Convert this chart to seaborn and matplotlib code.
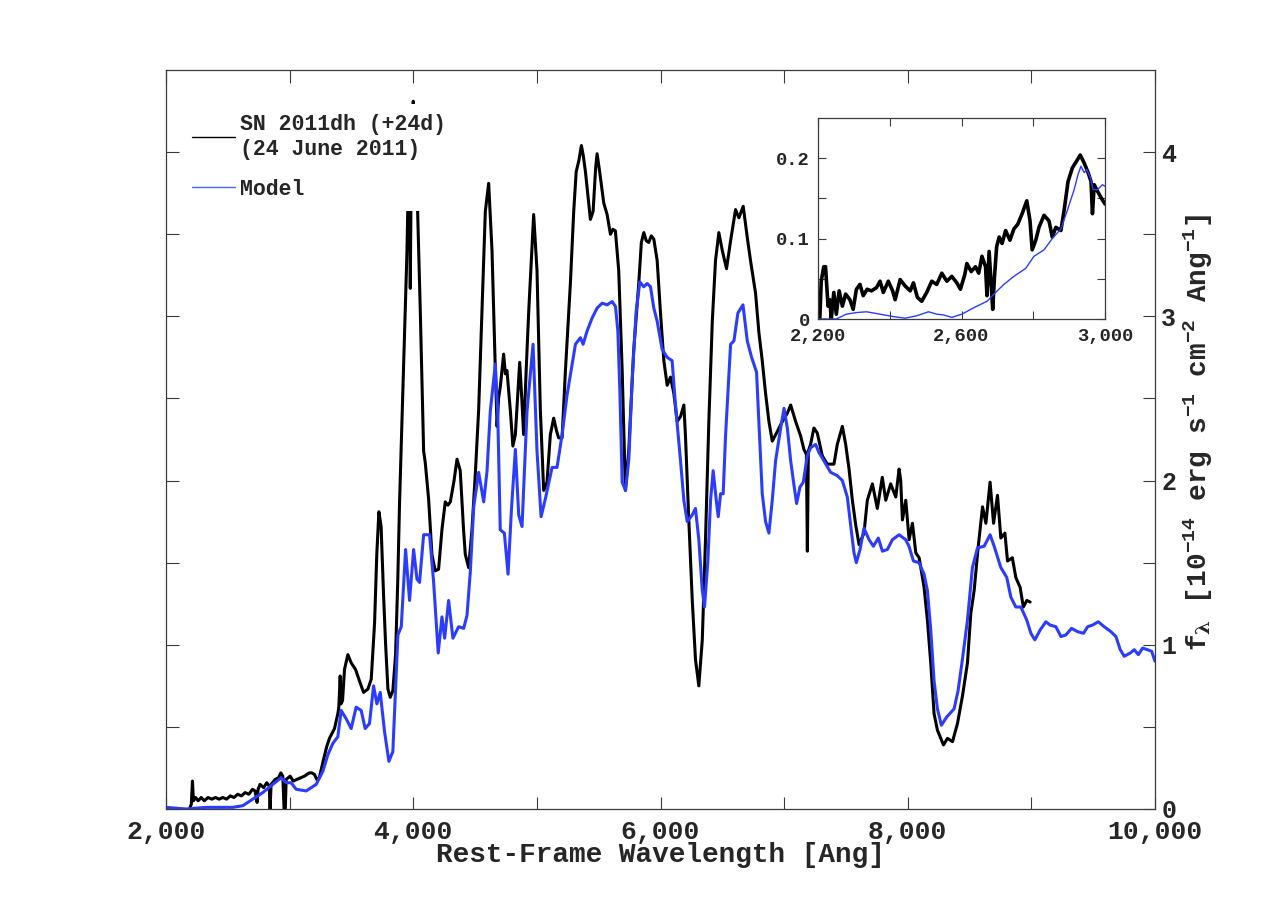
import matplotlib
matplotlib.use("Agg")
import matplotlib.pyplot as plt
import seaborn as sns
from matplotlib.lines import Line2D

# observed spectrum, SN 2011dh (+24d), flux in 1e-14 erg/s/cm2/A
obs_wave = [2190, 2205, 2214, 2222, 2240, 2260, 2285, 2310, 2340, 2370, 2400, 2430,
            2460, 2490, 2520, 2550, 2580, 2610, 2640, 2670, 2700, 2720, 2737, 2745,
            2761, 2790, 2815, 2835, 2842, 2850, 2883, 2910, 2929, 2945, 2955, 2965,
            2972, 3004, 3030, 3058, 3090, 3120, 3139, 3161, 3180, 3201, 3220, 3240,
            3274, 3300, 3322, 3363, 3390, 3398, 3409, 3416, 3428, 3444, 3471, 3498,
            3533, 3565, 3598, 3633, 3660, 3687, 3705, 3722, 3740, 3760, 3776, 3795,
            3814, 3835, 3857, 3875, 3889, 3922, 3949, 3962, 3970, 3976, 3984, 3994,
            4000, 4010, 4022, 4035, 4057, 4084, 4097, 4124, 4151, 4178, 4205, 4232,
            4259, 4280, 4300, 4330, 4354, 4380, 4407, 4421, 4448, 4475, 4502, 4529,
            4556, 4583, 4610, 4637, 4664, 4678, 4690, 4704, 4731, 4745, 4758, 4785,
            4806, 4826, 4861, 4878, 4893, 4915, 4934, 4974, 5001, 5028, 5055, 5082,
            5109, 5136, 5160, 5176, 5204, 5231, 5271, 5298, 5318, 5340, 5360, 5375,
            5393, 5433, 5455, 5475, 5487, 5508, 5541, 5568, 5595, 5615, 5635, 5662,
            5690, 5716, 5743, 5783, 5824, 5845, 5865, 5885, 5905, 5925, 5946, 5973,
            6000, 6027, 6054, 6081, 6108, 6135, 6162, 6189, 6202, 6229, 6257, 6283,
            6310, 6338, 6364, 6391, 6419, 6445, 6472, 6500, 6534, 6567, 6607, 6634,
            6669, 6702, 6728, 6769, 6796, 6823, 6850, 6877, 6904, 6939, 6986, 7026,
            7053, 7093, 7134, 7160, 7180, 7188, 7196, 7214, 7241, 7268, 7309, 7349,
            7403, 7430, 7471, 7498, 7525, 7552, 7579, 7606, 7646, 7673, 7714, 7754,
            7794, 7822, 7862, 7903, 7930, 7943, 7957, 7984, 8011, 8038, 8065, 8092,
            8132, 8159, 8186, 8213, 8240, 8289, 8321, 8362, 8402, 8443, 8483, 8510,
            8537, 8569, 8605, 8632, 8666, 8694, 8726, 8753, 8786, 8807, 8846, 8874,
            8909, 8935, 8963, 8990]
obs_flux = [0.00, 0.03, 0.17, 0.05, 0.07, 0.05, 0.07, 0.05, 0.07, 0.06, 0.07, 0.06,
            0.07, 0.06, 0.08, 0.07, 0.09, 0.08, 0.10, 0.09, 0.12, 0.11, 0.04, 0.12,
            0.15, 0.13, 0.16, 0.14, 0.00, 0.15, 0.18, 0.19, 0.22, 0.20, 0.00, 0.00,
            0.18, 0.20, 0.17, 0.18, 0.19, 0.20, 0.21, 0.22, 0.22, 0.21, 0.18, 0.19,
            0.30, 0.38, 0.43, 0.49, 0.58, 0.62, 0.81, 0.64, 0.66, 0.85, 0.94, 0.89,
            0.85, 0.78, 0.71, 0.73, 0.79, 1.13, 1.55, 1.81, 1.72, 1.30, 1.01, 0.73,
            0.68, 0.72, 0.94, 1.40, 1.86, 2.71, 3.39, 3.90, 4.05, 3.17, 3.95, 4.22,
            4.31, 4.20, 3.95, 3.65, 3.03, 2.18, 2.11, 1.89, 1.55, 1.45, 1.46, 1.70,
            1.87, 1.85, 1.87, 2.00, 2.13, 2.06, 1.70, 1.55, 1.47, 1.70, 2.04, 2.43,
            3.03, 3.64, 3.81, 3.40, 2.67, 2.33, 2.50, 2.57, 2.77, 2.65, 2.67, 2.43,
            2.21, 2.28, 2.72, 2.50, 2.28, 2.70, 3.03, 3.62, 3.28, 2.43, 1.94, 1.99,
            2.28, 2.38, 2.30, 2.26, 2.26, 2.67, 3.20, 3.64, 3.88, 3.95, 4.04, 3.98,
            3.88, 3.59, 3.64, 3.90, 3.99, 3.88, 3.69, 3.62, 3.50, 3.53, 3.52, 3.28,
            2.67, 1.94, 2.18, 2.79, 3.20, 3.45, 3.51, 3.46, 3.45, 3.49, 3.47, 3.34,
            3.02, 2.73, 2.58, 2.63, 2.53, 2.36, 2.39, 2.46, 2.27, 1.76, 1.27, 0.91,
            0.75, 1.03, 1.64, 2.36, 2.97, 3.34, 3.51, 3.40, 3.29, 3.46, 3.65, 3.60,
            3.67, 3.48, 3.34, 3.14, 2.90, 2.73, 2.53, 2.36, 2.24, 2.29, 2.36, 2.41,
            2.46, 2.36, 2.27, 2.19, 2.16, 1.57, 2.18, 2.22, 2.32, 2.29, 2.15, 2.10,
            2.10, 2.22, 2.33, 2.22, 2.07, 1.88, 1.73, 1.61, 1.68, 1.88, 1.98, 1.83,
            2.02, 1.88, 1.98, 1.90, 2.07, 2.00, 1.76, 1.88, 1.64, 1.74, 1.56, 1.53,
            1.35, 1.15, 0.89, 0.58, 0.48, 0.39, 0.43, 0.41, 0.52, 0.69, 0.89, 1.19,
            1.33, 1.59, 1.84, 1.74, 1.99, 1.74, 1.91, 1.65, 1.68, 1.51, 1.53, 1.41,
            1.35, 1.23, 1.27, 1.26]

# model spectrum
model_wave = [2000, 2162, 2324, 2540, 2621, 2702, 2783, 2864, 2931, 2972, 3012, 3053,
              3134, 3215, 3269, 3309, 3350, 3390, 3417, 3457, 3498, 3538, 3579, 3611,
              3646, 3679, 3706, 3733, 3768, 3803, 3835, 3876, 3903, 3938, 3970, 4003,
              4030, 4051, 4084, 4132, 4165, 4202, 4232, 4254, 4286, 4321, 4367, 4408,
              4435, 4462, 4489, 4529, 4570, 4597, 4623, 4664, 4683, 4704, 4737, 4767,
              4794, 4826, 4853, 4880, 4920, 4969, 5001, 5034, 5069, 5123, 5163, 5204,
              5244, 5277, 5312, 5352, 5374, 5406, 5447, 5487, 5528, 5568, 5609, 5636,
              5655, 5671, 5690, 5717, 5744, 5771, 5803, 5833, 5865, 5892, 5919, 5946,
              5973, 6013, 6054, 6094, 6121, 6162, 6189, 6216, 6256, 6283, 6310, 6337,
              6356, 6383, 6405, 6426, 6451, 6467, 6486, 6507, 6526, 6567, 6594, 6626,
              6667, 6702, 6737, 6777, 6796, 6823, 6850, 6877, 6904, 6931, 6972, 6999,
              7026, 7053, 7080, 7101, 7128, 7155, 7187, 7214, 7255, 7282, 7322, 7376,
              7430, 7471, 7511, 7538, 7565, 7584, 7614, 7646, 7687, 7722, 7762, 7795,
              7835, 7876, 7930, 7983, 8010, 8046, 8091, 8132, 8159, 8186, 8213, 8240,
              8272, 8315, 8375, 8407, 8442, 8483, 8523, 8564, 8618, 8666, 8699, 8753,
              8801, 8834, 8874, 8915, 8963, 8996, 9028, 9071, 9117, 9152, 9198, 9239,
              9279, 9325, 9373, 9422, 9455, 9495, 9541, 9589, 9643, 9684, 9719, 9751,
              9800, 9832, 9865, 9900, 9940, 9973, 10000]
model_flux = [0.01, 0.00, 0.01, 0.01, 0.02, 0.06, 0.10, 0.15, 0.19, 0.16, 0.16, 0.12,
              0.11, 0.15, 0.23, 0.33, 0.40, 0.44, 0.60, 0.55, 0.49, 0.62, 0.60, 0.49,
              0.52, 0.75, 0.64, 0.71, 0.47, 0.29, 0.35, 1.06, 1.11, 1.58, 1.27, 1.58,
              1.40, 1.38, 1.67, 1.67, 1.38, 0.95, 1.17, 1.04, 1.27, 1.04, 1.11, 1.10,
              1.18, 1.45, 1.84, 2.05, 1.87, 2.06, 2.42, 2.71, 2.42, 1.70, 1.68, 1.43,
              1.82, 2.19, 1.79, 1.72, 2.42, 2.83, 2.18, 1.78, 1.89, 2.08, 2.08, 2.28,
              2.52, 2.67, 2.83, 2.87, 2.83, 2.91, 2.99, 3.05, 3.08, 3.07, 3.09, 3.06,
              2.91, 2.55, 1.99, 1.94, 2.13, 2.62, 3.03, 3.21, 3.18, 3.20, 3.18, 3.05,
              2.97, 2.80, 2.75, 2.73, 2.46, 2.12, 1.88, 1.75, 1.79, 1.83, 1.64, 1.34,
              1.23, 1.51, 1.88, 2.06, 1.88, 1.78, 1.92, 1.92, 2.27, 2.83, 2.85, 3.02,
              3.07, 2.85, 2.75, 2.66, 2.36, 1.92, 1.75, 1.68, 1.88, 2.12, 2.32, 2.44,
              2.32, 2.12, 1.97, 1.86, 1.96, 1.99, 2.15, 2.20, 2.22, 2.17, 2.12, 2.05,
              2.03, 2.00, 1.90, 1.73, 1.56, 1.50, 1.58, 1.71, 1.64, 1.60, 1.65, 1.57,
              1.58, 1.64, 1.67, 1.64, 1.60, 1.51, 1.50, 1.43, 1.33, 1.09, 0.78, 0.61,
              0.51, 0.56, 0.61, 0.72, 0.91, 1.15, 1.47, 1.59, 1.60, 1.67, 1.60, 1.47,
              1.41, 1.29, 1.23, 1.23, 1.15, 1.07, 1.03, 1.09, 1.14, 1.12, 1.11, 1.05,
              1.06, 1.10, 1.08, 1.07, 1.11, 1.12, 1.14, 1.11, 1.08, 1.05, 0.97, 0.93,
              0.95, 0.97, 0.94, 0.98, 0.97, 0.96, 0.90]

# UV close-up (inset)
uv_obs_wave = [2205, 2209, 2216, 2221, 2228, 2233, 2237, 2244, 2251, 2259, 2268, 2277,
               2289, 2298, 2307, 2317, 2326, 2337, 2349, 2363, 2373, 2382, 2396, 2408,
               2415, 2429, 2443, 2457, 2466, 2477, 2489, 2503, 2517, 2531, 2545, 2559,
               2573, 2587, 2597, 2609, 2615, 2627, 2639, 2648, 2657, 2667, 2671, 2677,
               2683, 2687, 2692, 2698, 2705, 2713, 2723, 2735, 2746, 2757, 2769, 2782,
               2791, 2797, 2807, 2816, 2830, 2844, 2853, 2863, 2877, 2886, 2897, 2909,
               2923, 2931, 2942, 2953, 2961, 2965, 2970, 2979, 2989, 3000]
uv_obs_flux = [0.000, 0.047, 0.065, 0.065, 0.016, 0.024, 0.000, 0.033, 0.006, 0.035,
               0.016, 0.031, 0.024, 0.012, 0.037, 0.043, 0.029, 0.037, 0.035, 0.039,
               0.047, 0.033, 0.047, 0.035, 0.024, 0.049, 0.041, 0.035, 0.045, 0.027,
               0.022, 0.033, 0.047, 0.043, 0.057, 0.047, 0.053, 0.045, 0.037, 0.055,
               0.069, 0.059, 0.065, 0.057, 0.078, 0.065, 0.029, 0.084, 0.041, 0.012,
               0.053, 0.090, 0.102, 0.094, 0.110, 0.098, 0.112, 0.118, 0.131, 0.147,
               0.122, 0.086, 0.098, 0.114, 0.129, 0.122, 0.102, 0.114, 0.110, 0.135,
               0.171, 0.188, 0.198, 0.204, 0.194, 0.182, 0.171, 0.131, 0.167, 0.159,
               0.151, 0.143]
uv_model_wave = [2200, 2251, 2279, 2307, 2335, 2373, 2410, 2443, 2475, 2508, 2531, 2550,
                 2573, 2601, 2634, 2671, 2695, 2718, 2746, 2779, 2802, 2830, 2853, 2877,
                 2895, 2914, 2925, 2933, 2942, 2949, 2959, 2967, 2979, 2993, 3000]
uv_model_flux = [0.000, 0.000, 0.006, 0.008, 0.009, 0.006, 0.003, 0.001, 0.004, 0.009,
                 0.006, 0.005, 0.002, 0.006, 0.014, 0.022, 0.033, 0.043, 0.053, 0.063,
                 0.078, 0.086, 0.100, 0.112, 0.135, 0.161, 0.180, 0.190, 0.182, 0.186,
                 0.176, 0.161, 0.161, 0.167, 0.165]

x_ticks = list(range(2000, 10001, 1000))
x_labels = ["2,000", "", "4,000", "", "6,000", "", "8,000", "", "10,000"]
y_ticks = [0, 0.5, 1, 1.5, 2, 2.5, 3, 3.5, 4]
y_labels = ["0", "", "1", "", "2", "", "3", "", "4"]
uv_x_ticks = [2200, 2400, 2600, 2800, 3000]
uv_x_labels = ["2,200", "", "2,600", "", "3,000"]
uv_y_ticks = [0, 0.05, 0.1, 0.15, 0.2]
uv_y_labels = ["0", "", "0.1", "", "0.2"]

sns.set_style("white")
plt.rcParams["font.family"] = ["Liberation Mono", "DejaVu Sans"]
plt.rcParams["font.weight"] = "bold"
plt.rcParams["mathtext.fontset"] = "custom"
plt.rcParams["mathtext.rm"] = "Liberation Mono:bold"
plt.rcParams["mathtext.bf"] = "Liberation Mono:bold"
plt.rcParams["mathtext.it"] = "DejaVu Serif"

BLUE = "#2b3cff"
AXC = "#3a3a3a"

fig = plt.figure(figsize=(12.74, 9.11), dpi=100)
ax = fig.add_axes([166 / 1274, 102 / 911, 989 / 1274, 739 / 911])

sns.lineplot(x=obs_wave, y=obs_flux, ax=ax, color="black", lw=2.2,
             sort=False, estimator=None)
sns.lineplot(x=model_wave, y=model_flux, ax=ax, color=BLUE, lw=2.2,
             sort=False, estimator=None)

ax.set_xlim(2000, 10000)
ax.set_ylim(0, 4.5)
ax.set_xticks(x_ticks)
ax.set_xticklabels(x_labels, fontsize=19, fontweight="bold")
ax.set_yticks(y_ticks)
ax.set_yticklabels(y_labels, fontsize=18, fontweight="bold")
ax.tick_params(axis="both", direction="in", length=9, width=0.8, color=AXC,
               top=True, bottom=True, left=True, right=True,
               labelleft=False, labelright=True)
ax.tick_params(axis="x", pad=8)
ax.tick_params(axis="y", pad=4.5)
for s in ax.spines.values():
    s.set_color(AXC)
    s.set_linewidth(0.9)

ax.set_xlabel("Rest-Frame Wavelength [Ang]", fontsize=20, fontweight="bold",
              labelpad=-1.5)
ax.yaxis.set_label_position("right")
ax.set_ylabel(r"f$_\lambda$ [10$^{-14}$ erg s$^{-1}$ cm$^{-2}$ Ang$^{-1}$]",
              fontsize=20, fontweight="bold")
ax.yaxis.set_label_coords(1.027, 0.51)

handles = [Line2D([], [], color="black", lw=1),
           Line2D([], [], color="#4a62ff", lw=1)]
leg = ax.legend(handles, ["SN 2011dh (+24d)\n(24 June 2011)", "Model"],
                loc="upper left", bbox_to_anchor=(0.015, 0.9545),
                borderaxespad=0, frameon=True, framealpha=1,
                facecolor="white", edgecolor="none", fancybox=False,
                handlelength=2.0, handletextpad=0.25, labelspacing=0.9,
                borderpad=0.5, prop={"family": "Liberation Mono",
                                     "weight": "bold", "size": 15.5})

# inset: UV part of the spectrum
ax_in = fig.add_axes([818 / 1274, 592 / 911, 287 / 1274, 201 / 911])
sns.lineplot(x=uv_obs_wave, y=uv_obs_flux, ax=ax_in, color="black", lw=2.6,
             sort=False, estimator=None)
sns.lineplot(x=uv_model_wave, y=uv_model_flux, ax=ax_in, color=BLUE, lw=1.0,
             sort=False, estimator=None)
ax_in.set_xlim(2200, 3000)
ax_in.set_ylim(0, 0.25)
ax_in.set_xticks(uv_x_ticks)
ax_in.set_xticklabels(uv_x_labels, fontsize=13.5, fontweight="bold")
ax_in.set_yticks(uv_y_ticks)
ax_in.set_yticklabels(uv_y_labels, fontsize=13.5, fontweight="bold")
ax_in.tick_params(axis="both", direction="in", length=6, width=0.8, color=AXC,
                  top=True, bottom=True, left=True, right=True)
ax_in.tick_params(axis="x", pad=6.5)
ax_in.tick_params(axis="y", pad=6)
for s in ax_in.spines.values():
    s.set_color(AXC)
    s.set_linewidth(0.9)

fig.savefig("out.png", dpi=100)
